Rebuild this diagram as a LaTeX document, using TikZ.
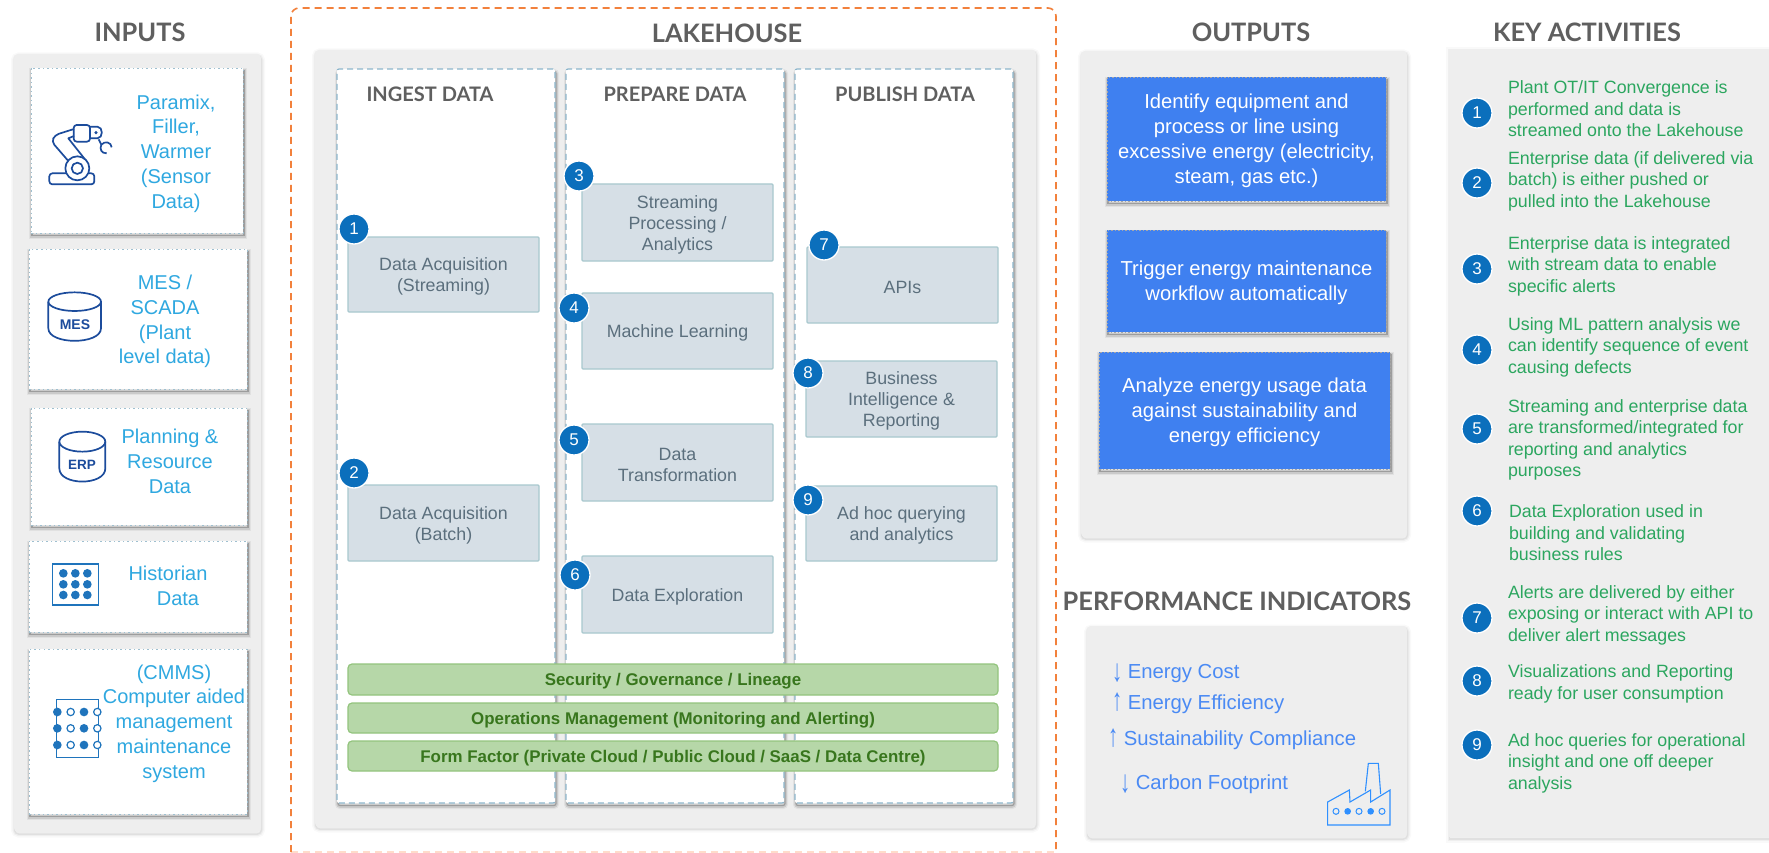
\documentclass[tikz,border=0pt]{standalone}
\usepackage{graphicx}
\usepackage{fontspec}
\setmainfont{Liberation Sans}
\newfontfamily\headfont{Lato}
\definecolor{panelgray}{HTML}{EEEEEE}
\definecolor{headgray}{HTML}{5F5F5F}
\definecolor{cardblue}{HTML}{2FA8E0}
\definecolor{dashblue}{HTML}{8DB6CC}
\definecolor{dotblue}{HTML}{9FC0D0}
\definecolor{orangedash}{HTML}{F2813C}
\definecolor{orangefade}{HTML}{FFDCCB}
\definecolor{boxfill}{HTML}{D6DFE6}
\definecolor{boxline}{HTML}{A8C8CE}
\definecolor{boxtext}{HTML}{5B6F7D}
\definecolor{badgeblue}{HTML}{0B6FBC}
\definecolor{outblue}{HTML}{3F80F0}
\definecolor{pitext}{HTML}{4A8AF4}
\definecolor{keygreen}{HTML}{2BA65F}
\definecolor{barfill}{HTML}{B6D7A8}
\definecolor{barline}{HTML}{93C47D}
\definecolor{bartext}{HTML}{38761D}
\definecolor{icondark}{HTML}{1C4C9C}
\definecolor{iconblue}{HTML}{1F74BC}
\definecolor{facblue}{HTML}{2F90FF}
\tikzset{
  softpanel/.style={
    preaction={draw=black,solid,draw opacity=.025,line width=7pt,transform canvas={xshift=.5pt,yshift=-2pt}},
    preaction={draw=black,solid,draw opacity=.04,line width=4pt,transform canvas={xshift=.5pt,yshift=-2pt}},
    preaction={draw=black,solid,draw opacity=.06,line width=1.5pt,transform canvas={xshift=.5pt,yshift=-2pt}}},
  softcard/.style={
    preaction={draw=black,solid,draw opacity=.05,line width=6pt,transform canvas={xshift=1pt,yshift=-3pt}},
    preaction={draw=black,solid,draw opacity=.10,line width=3.5pt,transform canvas={xshift=1pt,yshift=-3pt}},
    preaction={draw=black,solid,draw opacity=.22,line width=1.2pt,transform canvas={xshift=1pt,yshift=-2.5pt}}},
  base/.style={rectangle,inner sep=0pt,outer sep=0pt,align=center},
  panel/.style={base,fill=panelgray,rounded corners=4pt,softpanel},
  card/.style={base,fill=white,draw=dotblue,line width=.9pt,dash pattern=on 1.5pt off 3pt,softcard},
  column/.style={base,fill=white,draw=dashblue,line width=1.2pt,dash pattern=on 6pt off 4pt,rounded corners=2pt,softcard},
  procbox/.style={base,fill=boxfill,draw=boxline,line width=1.2pt,rounded corners=1pt},
  proctext/.style={base,text=boxtext,font=\fontsize{17.8}{21}\selectfont},
  outbox/.style={base,fill=outblue,draw=gray!70,line width=.5pt,dash pattern=on 1.5pt off 2pt,softcard},
  outtext/.style={base,text=white,font=\fontsize{20.2}{25}\selectfont},
  bar/.style={base,fill=barfill,draw=barline,line width=1.2pt,rounded corners=4pt},
  bartxt/.style={base,text=bartext,font=\fontsize{16.9}{20}\selectfont\bfseries},
  badge/.style={circle,fill=badgeblue,draw=white,line width=1.3pt,text=white,minimum size=30pt,inner sep=0pt,font=\fontsize{17}{17}\selectfont},
  headline/.style={base,text=headgray,font=\headfont\bfseries\fontsize{25.4}{28}\selectfont},
  subhead/.style={base,text=headgray,font=\headfont\bfseries\fontsize{20}{24}\selectfont},
  cardtext/.style={base,yshift=-1.5pt,text=cardblue,font=\fontsize{20}{24.7}\selectfont},
  keytext/.style={base,yshift=-1pt,anchor=west,align=left,text=keygreen,font=\fontsize{17.8}{21.5}\selectfont},
  pilabel/.style={base,yshift=-1.5pt,anchor=west,text=pitext,font=\fontsize{20.3}{24}\selectfont},
  iconline/.style={draw=icondark,line width=1.7pt,line join=round},
}
% name, x1, y1, x2, y2, style, text
\newcommand{\rectnode}[7]{\node[#6,minimum width={(#4-#2)*1pt},minimum height={(#5-#3)*1pt}] (#1) at ({(#2+#4)/2},{(#3+#5)/2}) {#7};}
% name, x1, y1, x2, y2, box style, text style, text (text sits 2pt below the box centre)
\newcommand{\textrect}[8]{\rectnode{#1}{#2}{#3}{#4}{#5}{#6}{}\node[#7] (#1t) at ([yshift=-2pt]#1.center) {#8};}
\newcommand{\arrdown}{\raisebox{-2.5pt}{\scalebox{1}[1.55]{↓}}}
\newcommand{\arrup}{\raisebox{-.5pt}{\scalebox{1}[1.55]{↑}}}
\begin{document}
\begin{tikzpicture}[x=1pt,y=-1pt]
\useasboundingbox (0,0) rectangle (1769,853);
\fill[white] (0,0) rectangle (1769,853);

% ---------- titles
\node[headline] (tInputs) at (140,32) {INPUTS};
\node[headline] (tLake) at (727,33) {LAKEHOUSE};
\node[headline] (tOut) at (1251,32) {OUTPUTS};
\node[headline] (tKey) at (1587,32) {KEY ACTIVITIES};
\node[headline] (tPI) at (1237,601) {PERFORMANCE INDICATORS};

% ---------- inputs
\rectnode{pInputs}{14}{54}{261}{832}{panel}{}
\rectnode{c1}{31}{68}{243}{233}{card}{}
\rectnode{c2}{29}{249}{247}{389}{card}{}
\rectnode{c3}{31}{408}{247}{525}{card}{}
\rectnode{c4}{29}{541}{247}{632}{card}{}
\rectnode{c5}{29}{649}{247}{814}{card}{}
\node[cardtext] (c1t) at (176,152) {Paramix,\\Filler,\\Warmer\\(Sensor\\Data)};
\node[cardtext] (c2t) at (165,320) {MES /\\SCADA\\(Plant\\level data)};
\node[cardtext] (c3t) at (170,460) {Planning \&\\Resource\\Data};
\node[cardtext] (c4t) at (168,584) {Historian\\\hspace*{20pt}Data};
\node[cardtext] (c5t) at (174,722) {(CMMS)\\Computer aided\\management\\maintenance\\system};

% robot arm icon
\begin{scope}[scale=1/3]
  \draw[iconline,rounded corners=3pt] (148,520) rectangle (283,553);
  \draw[iconline,fill=white] (232,505) circle (36);
  \draw[iconline] (232,505) circle (17);
  \draw[iconline,rounded corners=4pt] (205,483) -- (155,425) -- (165,405) -- (222,387);
  \draw[iconline] (255,478) -- (205,415) -- (222,408);
  \draw[iconline,rounded corners=3pt] (221,375) rectangle (270,425);
  \draw[iconline] (270,380) -- (292,380) .. controls (310,380) and (310,415) .. (292,415) -- (270,415);
  \fill[icondark] (288,398) circle (5);
  \draw[iconline] (296,418) -- (304,434);
  \draw[iconline] (304,434) .. controls (314,422) and (334,426) .. (335,442);
  \draw[iconline] (304,434) .. controls (298,448) and (304,460) .. (320,460);
  % MES cylinder
  \draw[iconline] (224,905) ellipse [x radius=79,y radius=28];
  \draw[iconline] (145,905) -- (145,985) .. controls (145,1035) and (303,1035) .. (303,985) -- (303,905);
  % ERP cylinder (y offset 1290 = 430*3)
  \draw[iconline] (247,1325) ellipse [x radius=69,y radius=30];
  \draw[iconline] (178,1325) -- (178,1405) .. controls (178,1458) and (316,1458) .. (316,1405) -- (316,1325);
  % Historian
  \draw[draw=iconblue,line width=1.3pt] (157,1692) rectangle (295,1815);
  \foreach \py in {1720,1753,1785} \foreach \px in {190,226,262} \fill[iconblue] (\px,\py) circle (13);
  % CMMS
  \draw[draw=iconblue,line width=1.3pt] (170,2098) rectangle (295,2273);
  \foreach \py in {2136,2185,2235}{
    \fill[iconblue] (172,\py) circle (13);
    \draw[iconblue,fill=white,line width=1.2pt] (212,\py) circle (11);
    \fill[iconblue] (252,\py) circle (13);
    \draw[iconblue,fill=white,line width=1.2pt] (292,\py) circle (11);
  }
\end{scope}
\node[base,text=icondark,font=\fontsize{14}{14}\selectfont\bfseries] (mesLabel) at (75,325) {MES};
\node[base,text=icondark,font=\fontsize{13.5}{14}\selectfont\bfseries] (erpLabel) at (82,465) {ERP};

% ---------- lakehouse frame
\draw[orangefade,line width=1.6pt,dash pattern=on 7pt off 5pt] (291,852) -- (1056,852);
\draw[orangedash,line width=1.6pt,dash pattern=on 7pt off 5pt,rounded corners=8pt] (291,852) -- (291,8) -- (1056,8) -- (1056,852);
\rectnode{pLake}{315}{50}{1036}{827}{panel}{}
\rectnode{col1}{337}{69}{555}{803}{column}{}
\rectnode{col2}{566}{69}{784}{803}{column}{}
\rectnode{col3}{795}{69}{1013}{803}{column}{}
\node[subhead] (hIngest) at (430,94) {INGEST DATA};
\node[subhead] (hPrep) at (675,94) {PREPARE DATA};
\node[subhead] (hPub) at (905,94) {PUBLISH DATA};

\textrect{b1}{348}{237}{539}{312}{procbox}{proctext}{Data Acquisition\\(Streaming)}
\textrect{b2}{348}{485}{539}{561}{procbox}{proctext}{Data Acquisition\\(Batch)}
\textrect{b3}{582}{184}{773}{261}{procbox}{proctext}{Streaming\\Processing /\\Analytics}
\textrect{b4}{582}{293}{773}{369}{procbox}{proctext}{Machine Learning}
\textrect{b5}{582}{424}{773}{501}{procbox}{proctext}{Data\\Transformation}
\textrect{b6}{582}{556}{773}{633}{procbox}{proctext}{Data Exploration}
\textrect{b7}{807}{247}{998}{323}{procbox}{proctext}{APIs}
\textrect{b8}{806}{361}{997}{437}{procbox}{proctext}{Business\\Intelligence \&\\Reporting}
\textrect{b9}{806}{486}{997}{561}{procbox}{proctext}{Ad hoc querying\\and analytics}

\node[badge] (n1) at (354,229) {1};
\node[badge] (n2) at (354,473) {2};
\node[badge] (n3) at (579,176) {3};
\node[badge] (n4) at (574,308) {4};
\node[badge] (n5) at (574,440) {5};
\node[badge] (n6) at (575,575) {6};
\node[badge] (n7) at (824,245) {7};
\node[badge] (n8) at (808,373) {8};
\node[badge] (n9) at (808,500) {9};

\textrect{bar1}{348}{664}{998}{695}{bar}{bartxt}{Security / Governance / Lineage}
\textrect{bar2}{348}{703}{998}{733}{bar}{bartxt}{Operations Management (Monitoring and Alerting)}
\textrect{bar3}{348}{741}{998}{771}{bar}{bartxt}{Form Factor (Private Cloud / Public Cloud / SaaS / Data Centre)}

% ---------- outputs
\rectnode{pOut}{1081}{51}{1407}{537}{panel}{}
\textrect{o1}{1107}{77}{1386}{201}{outbox}{outtext}{Identify equipment and\\process or line using\\excessive energy (electricity,\\steam, gas etc.)}
\textrect{o2}{1107}{230}{1386}{332}{outbox}{outtext}{Trigger energy maintenance\\workflow automatically}
\textrect{o3}{1099}{352}{1390}{469}{outbox}{outtext}{Analyze energy usage data\\against sustainability and\\energy efficiency}

% ---------- performance indicators
\rectnode{pPI}{1087}{626}{1407}{837}{panel}{}
\node[pilabel] (k1) at (1112,672) {\arrdown\ Energy Cost};
\node[pilabel] (k2) at (1112,702) {\arrup\ Energy Efficiency};
\node[pilabel] (k3) at (1108,738) {\arrup\ Sustainability Compliance};
\node[pilabel] (k4) at (1120,783) {\arrdown\ Carbon Footprint};
\begin{scope}[shift={(1060,590)},scale=1/3]
  \draw[facblue,line width=1.1pt,line join=miter] (803,705) -- (990,705) -- (990,600) -- (932,636) -- (932,600) -- (870,636) -- (868,600) -- (803,636) -- cycle;
  \draw[facblue,line width=1.1pt] (916,604) -- (925,520) -- (955,520) -- (962,612);
  \foreach \cx in {828,897,966} \draw[facblue,line width=1pt] (\cx,664) circle (9);
  \foreach \cx in {863,932} \fill[facblue] (\cx,664) circle (10);
\end{scope}

% ---------- key activities
\fill[panelgray,softpanel] (1449,49) -- (1775,49) -- (1775,837) -- (1449,837) -- cycle;
\foreach \lab/\yy in {1/113,2/183,3/269,4/350,5/429,6/511,7/618,8/681,9/745}
  \node[badge] (k\lab b) at (1477,\yy) {\lab};
\node[keytext] (kt1) at (1508,108) {Plant OT/IT Convergence is\\performed and data is\\streamed onto the Lakehouse};
\node[keytext] (kt2) at (1508,180) {Enterprise data (if delivered via\\batch) is either pushed or\\pulled into the Lakehouse};
\node[keytext] (kt3) at (1508,265) {Enterprise data is integrated\\with stream data to enable\\specific alerts};
\node[keytext] (kt4) at (1508,346) {Using ML pattern analysis we\\can identify sequence of event\\causing defects};
\node[keytext] (kt5) at (1508,439) {Streaming and enterprise data\\are transformed/integrated for\\reporting and analytics\\purposes};
\node[keytext] (kt6) at (1509,532) {Data Exploration used in\\building and validating\\business rules};
\node[keytext] (kt7) at (1508,614) {Alerts are delivered by either\\exposing or interact with API to\\deliver alert messages};
\node[keytext] (kt8) at (1508,683) {Visualizations and Reporting\\ready for user consumption};
\node[keytext] (kt9) at (1508,762) {Ad hoc queries for operational\\insight and one off deeper\\analysis};
\end{tikzpicture}
\end{document}
